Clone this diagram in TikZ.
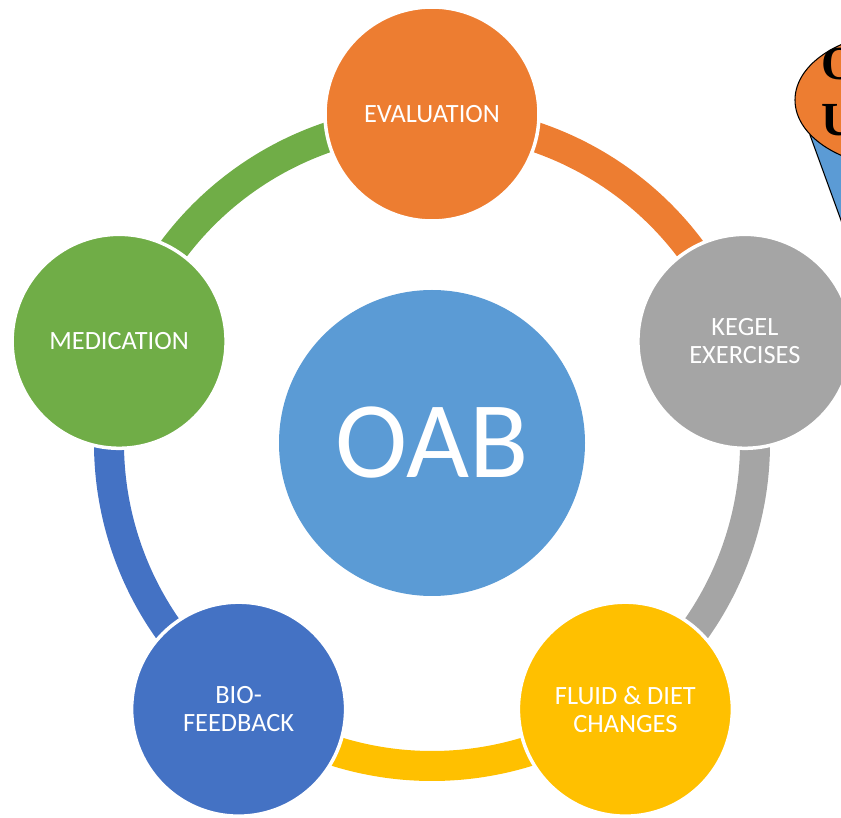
\documentclass[tikz,border=0pt]{standalone}
\usepackage{fontspec}
\setmainfont{Carlito}
\newfontfamily\calloutfont{Liberation Serif}
\usetikzlibrary{shapes.geometric, positioning}
\definecolor{oabOrange}{RGB}{237,125, 49}
\definecolor{oabGray}  {RGB}{165,165,165}
\definecolor{oabYellow}{RGB}{255,192,  0}
\definecolor{oabBlue}  {RGB}{ 68,114,196}
\definecolor{oabGreen} {RGB}{112,173, 71}
\definecolor{oabSky}   {RGB}{ 91,155,213}

\begin{document}
\begin{tikzpicture}[
  step circ/.style={circle, minimum size=4.28cm, inner sep=0pt,
    draw=white, line width=0.07cm, text=white, align=center,
    font=\fontsize{15}{16}\selectfont},
  hub/.style={circle, minimum size=6.12cm, inner sep=0pt,
    fill=oabSky, text=white, font=\fontsize{62}{62}\selectfont},
  ring/.style={line width=0.6cm},
  callout txt/.style={anchor=west, inner sep=0pt,
    font=\calloutfont\fontsize{27}{27}\selectfont\bfseries},
]
\clip (0,0) rectangle (16.82,16.36);

%% Centre of the cycle
\coordinate (O) at (8.64,7.5);

%% Connecting ring segments (clockwise)
\foreach \a/\b/\col in {90/18/oabOrange, 18/-54/oabGray, -54/-126/oabYellow,
  -126/-198/oabBlue, 162/90/oabGreen}{
  \draw[ring, \col] (O) ++(\a:6.46) arc[start angle=\a, end angle=\b, radius=6.46];
}

%% Hub
\node[hub] (oab) at (O) {OAB};

%% Cycle steps
\node[step circ, fill=oabOrange] (eval) at ([shift={(90:6.58)}]O)   {EVALUATION};
\node[step circ, fill=oabGray]   (kegel) at ([shift={(18:6.58)}]O)  {KEGEL\\EXERCISES};
\node[step circ, fill=oabYellow] (fluid) at ([shift={(-54:6.58)}]O) {FLUID \& DIET\\CHANGES};
\node[step circ, fill=oabBlue]   (bio) at ([shift={(-126:6.58)}]O)  {BIO-\\FEEDBACK};
\node[step circ, fill=oabGreen]  (med) at ([shift={(162:6.58)}]O)   {MEDICATION};

%% Cut-off callout, top right
\draw[fill=oabSky, line width=0.6pt] (16.2,13.66) -- (17.4,10.36) -- (20,13.66) -- cycle;
\node[ellipse, draw, fill=oabOrange, line width=0.6pt, minimum width=4.4cm,
  minimum height=2.72cm] (bubble) at (18.1,14.36) {};
\node[callout txt] (bubbleA) at (16.42,15.08) {O};
\node[callout txt] (bubbleB) at (16.42,13.96) {U};
\end{tikzpicture}
\end{document}
